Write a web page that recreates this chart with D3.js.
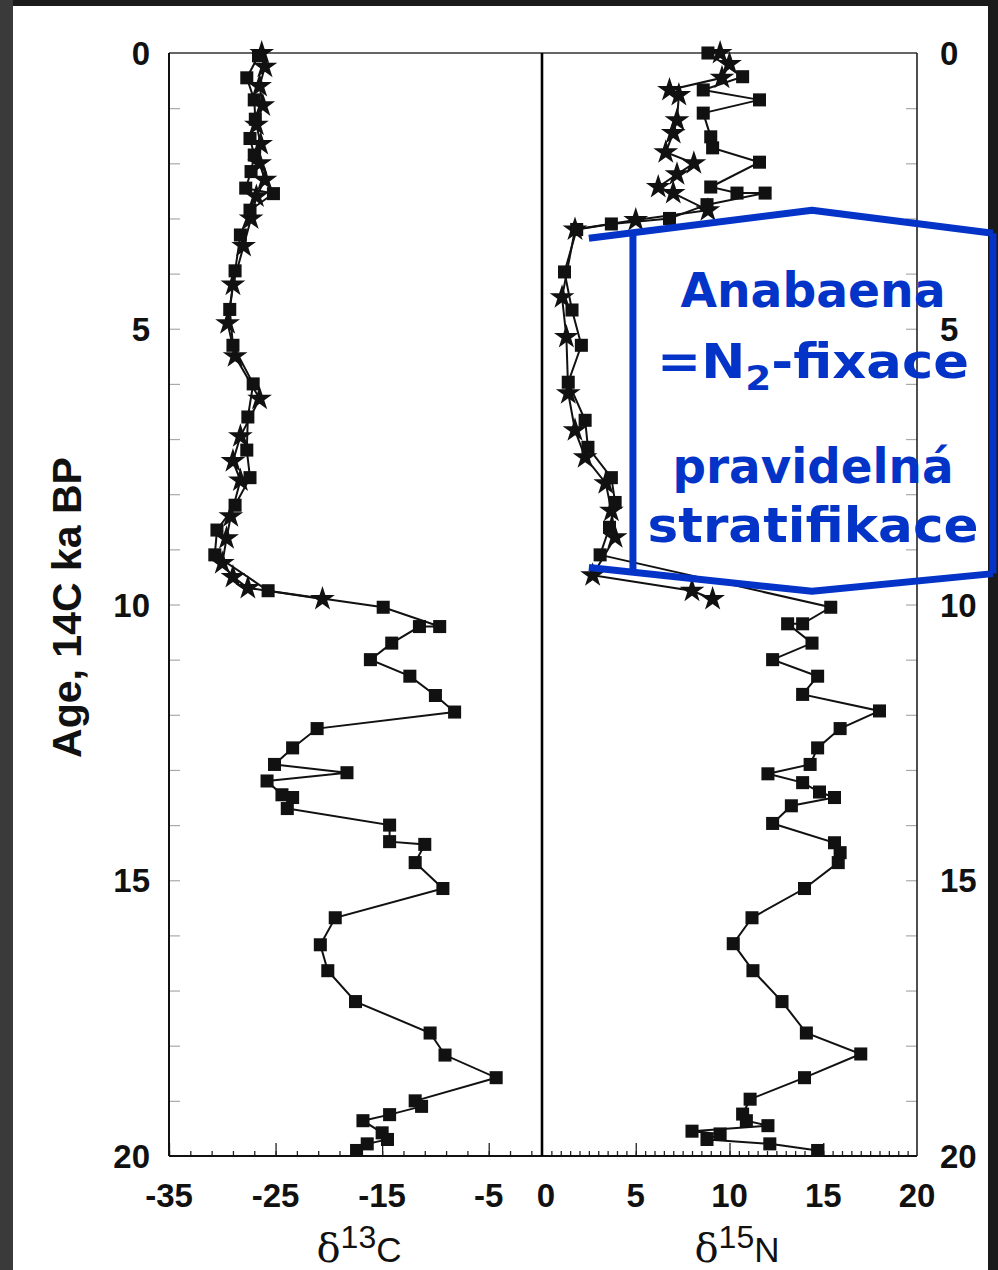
<!DOCTYPE html>
<html>
<head>
<meta charset="utf-8">
<script src="https://cdn.jsdelivr.net/npm/d3@7"></script>
<style>
  body { margin: 0; background: #fff; }
  svg { display: block; }
</style>
</head>
<body>
<div id="chart"></div>
<script>
// d13C, square core: [age ka BP, d13C]
var c13Squares = [[0.05,-26.6],[0.45,-27.7],[0.85,-27.0],[1.2,-26.9],[1.55,-27.4],[1.85,-27.0],[2.15,-27.3],[2.45,-27.8],[2.55,-25.2],[2.85,-27.4],[3.3,-28.3],[3.95,-28.8],[4.65,-29.3],[5.3,-29.0],[6.0,-27.1],[6.6,-27.6],[7.2,-27.7],[7.7,-27.4],[8.2,-28.8],[8.65,-30.5],[9.1,-30.7],[9.75,-25.7],
  [10.05,-14.9],[10.4,-9.6],[10.4,-11.5],[10.7,-14.1],[11.0,-16.1],[11.3,-12.4],[11.65,-10.0],[11.95,-8.2],[12.25,-21.1],[12.6,-23.4],[12.9,-25.1],[13.05,-18.3],[13.2,-25.8],[13.45,-24.4],[13.5,-23.4],[13.7,-23.9],[14.0,-14.3],[14.3,-14.3],[14.35,-11.0],[14.68,-11.9],[15.15,-9.3],[15.68,-19.4],[16.17,-20.8],[16.64,-20.1],[17.2,-17.5],[17.77,-10.5],[18.17,-9.1],[18.58,-4.3],[19.0,-11.9],[19.1,-11.3],[19.25,-14.3],[19.36,-16.8],[19.58,-15.0],[19.7,-14.5],[19.78,-16.4],[19.9,-17.4]];
// d13C, star core
var c13Stars = [[0,-26.3],[0.25,-26.0],[0.6,-26.5],[0.95,-26.2],[1.3,-26.8],[1.65,-26.4],[2.0,-26.5],[2.3,-26.0],[2.6,-26.8],[3.0,-27.3],[3.5,-28.0],[4.2,-29.0],[4.9,-29.5],[5.5,-28.8],[6.27,-26.5],[6.95,-28.3],[7.4,-29.0],[7.75,-28.3],[8.4,-29.2],[8.8,-29.6],[9.25,-30.0],[9.5,-29.0],[9.7,-27.6],[9.9,-20.6]];
// d15N, square core
var n15Squares = [[0.0,8.85],[0.43,10.7],[0.67,8.6],[0.85,11.6],[1.09,8.6],[1.52,9.0],[1.72,9.1],[1.98,11.6],[2.43,9.0],[2.54,10.4],[2.54,11.9],[2.75,8.8],[3.0,6.8],[3.1,3.7],[3.2,1.85],[3.97,1.2],[4.66,1.6],[5.3,2.1],[5.97,1.4],[6.66,2.3],[7.15,2.45],[7.7,3.7],[8.15,3.9],[8.6,3.6],[9.1,3.1],
  [10.05,15.4],[10.35,13.9],[10.35,13.1],[10.7,14.4],[11.0,12.3],[11.3,14.7],[11.63,13.9],[11.93,18.0],[12.25,15.9],[12.6,14.7],[12.9,14.3],[13.07,12.05],[13.23,13.9],[13.4,14.8],[13.5,15.6],[13.65,13.3],[13.97,12.3],[14.32,15.6],[14.5,15.9],[14.68,15.8],[15.15,14.0],[15.68,11.2],[16.15,10.2],[16.64,11.25],[17.2,12.8],[17.77,14.1],[18.15,17.0],[18.58,14.0],[18.97,11.1],[19.24,10.7],[19.36,10.9],[19.45,12.05],[19.55,8.0],[19.6,9.5],[19.7,8.8],[19.78,12.15],[19.9,14.7]];
// d15N, star core
var n15Stars = [[0,9.5],[0.2,10.0],[0.45,9.6],[0.67,6.8],[0.76,7.3],[1.22,7.2],[1.45,7.0],[1.8,6.6],[2.0,8.1],[2.2,7.2],[2.43,6.2],[2.54,7.0],[2.85,8.85],[3.03,5.0],[3.2,1.76],[4.43,1.07],[5.15,1.3],[6.17,1.4],[6.84,1.76],[7.33,2.3],[7.8,3.4],[8.3,3.7],[8.78,3.9],[9.47,2.7],[9.75,8.0],[9.9,9.1]];

var ageTicks = [0, 5, 10, 15, 20];
var c13Ticks = [-35, -25, -15, -5];
var n15Ticks = [5, 10, 15, 20];
var noteLines = ["Anabaena", "=N|2|-fixace", "pravidelná", "stratifikace"];

var W = 998, H = 1270;
var blue = "#0433c8";

var svg = d3.select("#chart").append("svg")
    .attr("width", W)
    .attr("height", H);

// dark frame around the scan
svg.append("rect").attr("width", W).attr("height", H).attr("fill", "#fff");
svg.append("rect").attr("x", 0).attr("y", 0).attr("width", W).attr("height", 6).attr("fill", "#1b1b1b");
svg.append("rect").attr("x", 0).attr("y", 0).attr("width", 13).attr("height", H).attr("fill", "#3a3a3a");
svg.append("rect").attr("x", 988).attr("y", 0).attr("width", 10).attr("height", H).attr("fill", "#1b1b1b");

var y = d3.scaleLinear().domain([0, 20]).range([53, 1156]);
var xC = d3.scaleLinear().domain([-35, 0]).range([169, 542]);
var xN = d3.scaleLinear().domain([0, 20]).range([542, 917]);

// ticks
var tickCol = "#222";
var bottomC = d3.axisBottom(xC).tickValues(d3.range(-35, 0, 2)).tickSize(-5).tickFormat("");
var bottomCmaj = d3.axisBottom(xC).tickValues(c13Ticks).tickSize(-13).tickFormat("");
var bottomN = d3.axisBottom(xN).tickValues(d3.range(0.5, 20, 0.5)).tickSize(-5).tickFormat("");
var bottomNmaj = d3.axisBottom(xN).tickValues([5, 10, 15]).tickSize(-13).tickFormat("");
[bottomC, bottomCmaj, bottomN, bottomNmaj].forEach(function(ax) {
  svg.append("g").attr("transform", "translate(0," + y(20) + ")").call(ax)
    .call(function(g) { g.select(".domain").remove(); g.selectAll("line").attr("stroke", tickCol).attr("stroke-width", 1.3); });
});
var leftAx = d3.axisRight(y).tickValues(d3.range(1, 20, 1)).tickSize(11).tickFormat("");
svg.append("g").attr("transform", "translate(" + xC(-35) + ",0)").call(leftAx)
  .call(function(g) { g.select(".domain").remove(); g.selectAll("line").attr("stroke", "#aaa").attr("stroke-width", 1.2); });
var rightAx = d3.axisLeft(y).tickValues(d3.range(1, 20, 1)).tickSize(11).tickFormat("");
svg.append("g").attr("transform", "translate(" + xN(20) + ",0)").call(rightAx)
  .call(function(g) { g.select(".domain").remove(); g.selectAll("line").attr("stroke", "#aaa").attr("stroke-width", 1.2); });

// frame
svg.append("line").attr("x1", xC(-35)).attr("x2", xN(20)).attr("y1", y(0)).attr("y2", y(0)).attr("stroke", "#333").attr("stroke-width", 1.6);
svg.append("line").attr("x1", xC(-35)).attr("x2", xN(20)).attr("y1", y(20)).attr("y2", y(20)).attr("stroke", "#111").attr("stroke-width", 2.2);
svg.append("line").attr("x1", xC(-35)).attr("x2", xC(-35)).attr("y1", y(0)).attr("y2", y(20)).attr("stroke", "#111").attr("stroke-width", 2);
svg.append("line").attr("x1", xN(20)).attr("x2", xN(20)).attr("y1", y(0)).attr("y2", y(20)).attr("stroke", "#222").attr("stroke-width", 1.6);
svg.append("line").attr("x1", xC(0)).attr("x2", xC(0)).attr("y1", y(0)).attr("y2", y(20)).attr("stroke", "#000").attr("stroke-width", 2.6);

// tick labels
var lab = { "font-family": "Liberation Sans, Arial, sans-serif", "font-weight": "bold", "font-size": "33px", "fill": "#111" };
function applyStyle(sel, st) { Object.keys(st).forEach(function(k) { sel.attr(k, st[k]); }); return sel; }
applyStyle(svg.append("g").selectAll("text").data(ageTicks).join("text")
  .attr("x", 150).attr("y", d => y(d) + 12).attr("text-anchor", "end").text(d => d), lab);
applyStyle(svg.append("g").selectAll("text").data(ageTicks).join("text")
  .attr("x", 940).attr("y", d => y(d) + 12).attr("text-anchor", "start").text(d => d), lab);
applyStyle(svg.append("g").selectAll("text").data(c13Ticks).join("text")
  .attr("x", d => xC(d)).attr("y", 1207).attr("text-anchor", "middle").text(d => d), lab);
applyStyle(svg.append("g").selectAll("text").data([0].concat(n15Ticks)).join("text")
  .attr("x", d => xN(d) + (d === 0 ? 4 : 0)).attr("y", 1207).attr("text-anchor", "middle").text(d => d), lab);

// axis titles
applyStyle(svg.append("text")
  .attr("transform", "translate(81," + (y(10) + 3) + ") rotate(-90)")
  .attr("text-anchor", "middle").text("Age, 14C ka BP"), lab).attr("font-size", "41px");

function deltaLabel(cx, sup, el) {
  var t = svg.append("text").attr("x", cx).attr("y", 1262).attr("text-anchor", "middle").attr("fill", "#111");
  t.append("tspan").attr("font-family", "DejaVu Serif, serif").attr("font-size", "40px").text("δ");
  t.append("tspan").attr("font-family", "Liberation Sans, Arial, sans-serif").attr("font-size", "32px").attr("dy", -14).text(sup);
  t.append("tspan").attr("font-family", "Liberation Sans, Arial, sans-serif").attr("font-size", "35px").attr("dy", 14).text(el);
}
deltaLabel(359, "13", "C");
deltaLabel(737, "15", "N");

// series
var lineC = d3.line().x(d => xC(d[1])).y(d => y(d[0]));
var lineN = d3.line().x(d => xN(d[1])).y(d => y(d[0]));
var sq = d3.symbol().type(d3.symbolSquare).size(170);
var st = d3.symbol().type(d3.symbolStar).size(190);

function drawSeries(data, line, xs, sym) {
  svg.append("path").datum(data).attr("d", line).attr("fill", "none").attr("stroke", "#111").attr("stroke-width", 2);
  svg.append("g").selectAll("path").data(data).join("path")
    .attr("transform", d => "translate(" + xs(d[1]) + "," + y(d[0]) + ")")
    .attr("d", sym).attr("fill", "#111");
}
drawSeries(c13Stars, lineC, xC, st);
drawSeries(c13Squares, lineC, xC, sq);
drawSeries(n15Stars, lineN, xN, st);
drawSeries(n15Squares, lineN, xN, sq);

// blue annotation (hand drawn box)
var noteTop = [[3.36, 2.5], [2.85, 14.4], [3.27, 24.05]];
var noteBot = [[9.33, 2.5], [9.76, 14.4], [9.44, 24.05]];
var noteL = [[3.3, 4.85], [9.38, 4.85]];
var noteR = [[3.27, 24.05], [9.44, 24.05]];
[noteTop, noteBot, noteL, noteR].forEach(function(p) {
  svg.append("path").datum(p).attr("d", lineN).attr("fill", "none")
    .attr("stroke", blue).attr("stroke-width", 7).attr("stroke-linejoin", "round");
});

var noteY = [307, 378, 483, 542];
var noteW = [265, 312, 281, 331];
noteLines.forEach(function(s, i) {
  var t = svg.append("text").attr("x", 813).attr("y", noteY[i]).attr("text-anchor", "middle")
    .attr("font-family", "DejaVu Sans, sans-serif").attr("font-weight", "bold")
    .attr("font-size", "48px").attr("fill", blue)
    .attr("textLength", noteW[i]).attr("lengthAdjust", "spacingAndGlyphs");
  if (s.indexOf("|") >= 0) {
    var parts = s.split("|");
    t.append("tspan").text(parts[0]);
    t.append("tspan").attr("font-size", "34px").attr("dy", 12).text(parts[1]);
    t.append("tspan").attr("dy", -12).text(parts[2]);
  } else {
    t.text(s);
  }
});
</script>
</body>
</html>
